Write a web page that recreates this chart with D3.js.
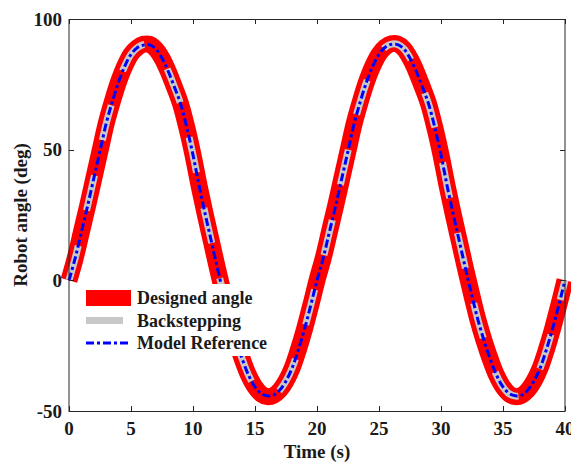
<!DOCTYPE html>
<html>
<head>
<meta charset="utf-8">
<script src="https://cdn.jsdelivr.net/npm/d3@7"></script>
<style>
  html, body { margin: 0; padding: 0; background: #fff; }
  svg { display: block; }
  text { font-family: "Liberation Serif", "Times New Roman", serif; font-weight: bold; fill: #1a1a1a; }
</style>
</head>
<body>
<svg id="chart" width="571" height="462"></svg>
<script>
// ---- data ----
const time = [
  0,0.5,1,1.5,2,2.5,3,3.5,4,4.5,5,5.5,6,6.5,7,7.5,8,8.5,9,9.5,
  10,10.5,11,11.5,12,12.5,13,13.5,14,14.5,15,15.5,16,16.5,17,17.5,18,18.5,19,19.5,
  20,20.5,21,21.5,22,22.5,23,23.5,24,24.5,25,25.5,26,26.5,27,27.5,28,28.5,29,29.5,
  30,30.5,31,31.5,32,32.5,33,33.5,34,34.5,35,35.5,36,36.5,37,37.5,38,38.5,39,39.5,40
];
const designedAngle = [
  0,8.5,18.5,28.5,39,49.5,60,68.5,76,82,86.5,89,90.3,90.3,88.5,85,80,74,67.5,58.5,
  48,36,25,14.5,4,-6,-15.5,-23.5,-30.5,-36.5,-40.8,-43.5,-44.5,-44,-42,-38.5,-33.5,-26.5,-18.5,-9.5,
  0,8.5,18.5,28.5,39,49.5,60,68.5,76,82,86.5,89.2,90.5,90.4,88.6,85,80,74,67.5,58.5,
  48,36,25,14.5,4,-6,-15.5,-23.5,-30.5,-36.5,-40.8,-43.5,-44.5,-44,-42,-38.5,-33.5,-26.5,-18.5,-9.5,0
];
const backstepping = [
  0,8.5,18.5,28.5,39,49.5,60,68.5,76,82,86.5,89,90.2,90.2,88.5,85,80,74,67.5,58.5,
  48,36,25,14.5,4,-6,-15.5,-23.5,-30.5,-36.5,-40.8,-43.4,-44.3,-44,-42,-38.5,-33.5,-26.5,-18.5,-9.5,
  0,8.5,18.5,28.5,39,49.5,60,68.5,76,82,86.5,89.2,90.4,90.3,88.6,85,80,74,67.5,58.5,
  48,36,25,14.5,4,-6,-15.5,-23.5,-30.5,-36.5,-40.8,-43.4,-44.3,-44,-42,-38.5,-33.5,-26.5,-18.5,-9.5,0
];
const modelReference = [
  0,8.5,18.5,28.5,39,49.5,60,68.5,76,82,86.5,89,90,90.1,88.5,85,80,74,67.5,58.5,
  48,36,25,14.5,4,-6,-15.5,-23.5,-30.5,-36.5,-40.8,-43.3,-44.2,-43.9,-42,-38.5,-33.5,-26.5,-18.5,-9.5,
  0,8.5,18.5,28.5,39,49.5,60,68.5,76,82,86.5,89.2,90.3,90.2,88.6,85,80,74,67.5,58.5,
  48,36,25,14.5,4,-6,-15.5,-23.5,-30.5,-36.5,-40.8,-43.3,-44.2,-43.9,-42,-38.5,-33.5,-26.5,-18.5,-9.5,0
];
const xTicks = [0,5,10,15,20,25,30,35,40];
const yTicks = [-50,0,50,100];
const legendLabels = ["Designed angle","Backstepping","Model Reference"];
const xLabel = "Time (s)";
const yLabel = "Robot angle (deg)";

// ---- layout ----
const svg = d3.select("#chart");
const L = 69, R = 565, T = 19, B = 411;
const x = d3.scaleLinear().domain([0,40]).range([L,R]);
const y = d3.scaleLinear().domain([-50,100]).range([B,T]);

const seriesStyle = [
  {values: designedAngle, color:"#ff0000", width:17, dash:null},
  {values: backstepping,  color:"#c8c8c8", width:7,  dash:"36,36"},
  {values: modelReference,color:"#0000ff", width:3,  dash:"8,3,3,3"}
];

const line = d3.line().curve(d3.curveCatmullRom.alpha(0.5));

seriesStyle.forEach(s => {
  svg.append("path")
    .attr("d", line(time.map((t,i)=>[x(t), y(s.values[i])])))
    .attr("fill","none")
    .attr("stroke", s.color)
    .attr("stroke-width", s.width)
    .attr("stroke-linejoin","round")
    .attr("stroke-linecap","butt")
    .attr("stroke-dasharray", s.dash);
});

// ---- axes (box with inward ticks) ----
const axisColor = "#262626";
const ax = svg.append("g");
ax.append("line").attr("x1",L).attr("x2",R).attr("y1",B+0.5).attr("y2",B+0.5).attr("stroke",axisColor);
ax.append("line").attr("x1",L).attr("x2",R).attr("y1",T+0.5).attr("y2",T+0.5).attr("stroke",axisColor);
ax.append("line").attr("x1",L).attr("x2",L).attr("y1",T).attr("y2",B+1).attr("stroke",axisColor);
ax.append("line").attr("x1",R).attr("x2",R).attr("y1",T).attr("y2",B+1).attr("stroke",axisColor);

const tl = 5;
xTicks.forEach(v => {
  const px = Math.round(x(v)) + 0.5;
  ax.append("line").attr("x1",px).attr("x2",px).attr("y1",B).attr("y2",B-tl).attr("stroke",axisColor);
  ax.append("line").attr("x1",px).attr("x2",px).attr("y1",T).attr("y2",T+tl).attr("stroke",axisColor);
  ax.append("text").attr("x",x(v)).attr("y",B+24).attr("text-anchor","middle")
    .style("font-size","19px").text(v);
});
yTicks.forEach(v => {
  const py = Math.round(y(v)) + 0.5;
  ax.append("line").attr("x1",L).attr("x2",L+tl).attr("y1",py).attr("y2",py).attr("stroke",axisColor);
  ax.append("line").attr("x1",R).attr("x2",R-tl).attr("y1",py).attr("y2",py).attr("stroke",axisColor);
  ax.append("text").attr("x",L-7).attr("y",y(v)).attr("dy","0.35em").attr("text-anchor","end")
    .style("font-size","19px").text(v);
});

svg.append("text").attr("x",(L+R)/2).attr("y",458).attr("text-anchor","middle")
  .style("font-size","19px").text(xLabel);
svg.append("text").attr("transform",`translate(27,${(T+B)/2}) rotate(-90)`).attr("text-anchor","middle")
  .style("font-size","19px").text(yLabel);

// ---- legend (white background, no border) ----
const lg = svg.append("g");
lg.append("rect").attr("x",72).attr("y",284).attr("width",200).attr("height",72).attr("fill","#fff");
const rowsY = [298, 320.5, 343];
const swatch = [
  {color:"#ff0000", width:16, dash:null},
  {color:"#c8c8c8", width:7,  dash:"37,40"},
  {color:"#0000ff", width:3,  dash:"8,3,3,3"}
];
legendLabels.forEach((lab,i) => {
  lg.append("line").attr("x1",86).attr("x2",131).attr("y1",rowsY[i]).attr("y2",rowsY[i])
    .attr("stroke",swatch[i].color).attr("stroke-width",swatch[i].width)
    .attr("stroke-dasharray",swatch[i].dash);
  lg.append("text").attr("x",137).attr("y",rowsY[i]).attr("dy","0.35em")
    .style("font-size","18px").text(lab);
});
</script>
</body>
</html>
